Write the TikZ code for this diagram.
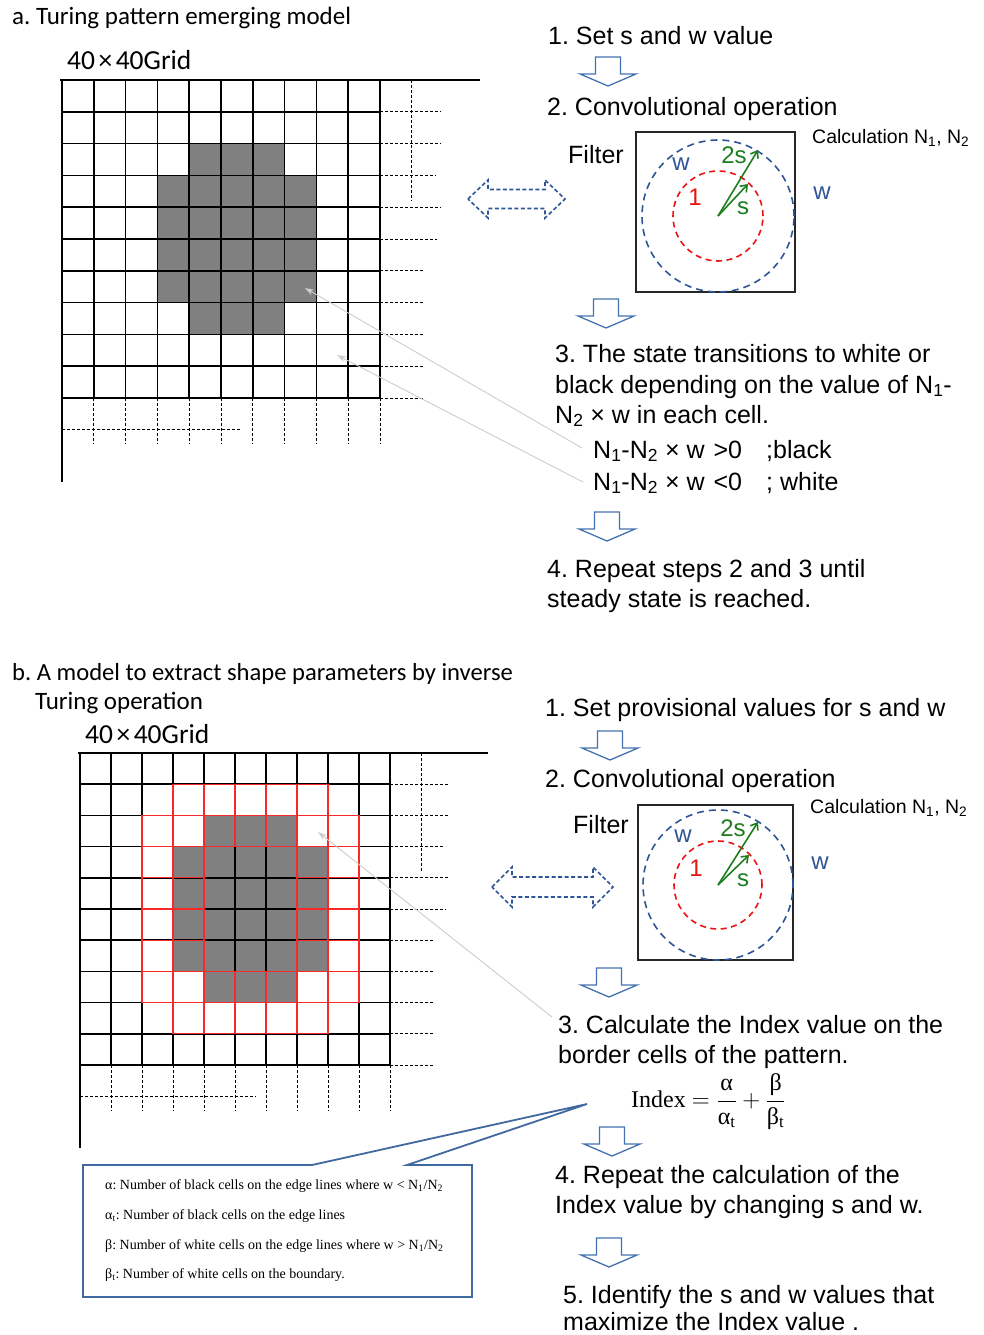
\documentclass[tikz,border=0pt]{standalone}
\usepackage[no-math]{fontspec}
\setmainfont{Liberation Sans}
\newfontfamily\calfont{Carlito}
\newfontfamily\serfont{Liberation Serif}
\usetikzlibrary{arrows.meta}
\frenchspacing
\definecolor{arrblue}{RGB}{68,114,176}
\definecolor{dashblue}{RGB}{47,85,151}
\definecolor{calloutblue}{RGB}{65,105,160}
\definecolor{fgreen}{RGB}{30,125,30}
\definecolor{cellgray}{RGB}{128,128,128}
\definecolor{leadgray}{RGB}{205,205,205}
\definecolor{gridred}{RGB}{250,40,40}
\definecolor{circred}{RGB}{235,20,20}
\tikzset{
 txt/.style={anchor=base west, inner sep=0pt, font=\fontsize{25}{30}\selectfont},
 ttl/.style={anchor=base west, inner sep=0pt, font=\calfont\fontsize{25}{30}\selectfont},
 grd/.style={anchor=base west, inner sep=0pt, font=\calfont\fontsize{27.5}{30}\selectfont},
 calc/.style={anchor=base west, inner sep=0pt, font=\fontsize{19.5}{22}\selectfont},
 lbl/.style={inner sep=0pt, font=\fontsize{24}{26}\selectfont},
 boxt/.style={anchor=base west, inner sep=0pt, font=\serfont\fontsize{14}{16}\selectfont},
 blockarrow/.style={draw=arrblue, line width=1.3pt, fill=white, line join=miter},
 dblarrow/.style={draw=dashblue, line width=1.6pt, dash pattern=on 4pt off 2.5pt},
 leader/.style={draw=leadgray, line width=0.9pt, -{Stealth[length=9pt,width=6pt]}},
 garrow/.style={draw=fgreen, line width=1.6pt, -{Straight Barb[length=6pt,width=9pt]}},
 bluecirc/.style={draw=dashblue, line width=1.6pt, dash pattern=on 7pt off 5pt},
 redcirc/.style={draw=circred, line width=1.6pt, dash pattern=on 6pt off 4.5pt},
 filterbox/.style={draw=black!85, line width=1.3pt},
 gline/.style={draw=black, line width=1.5pt},
 gdash/.style={draw=black, line width=1pt, dash pattern=on 3pt off 2pt},
 redcell/.style={draw=gridred, line width=1.3pt},
 callout/.style={draw=calloutblue, line width=1.8pt, line join=miter},
}
\newcommand\turgrid[4]{%
\begin{scope}[shift={(#1,#2)}, x=#3pt, y=-#4pt]
 \fill[cellgray] (4,2) rectangle (7,3);
 \fill[cellgray] (3,3) rectangle (8,7);
 \fill[cellgray] (4,7) rectangle (7,8);
 \foreach \k in {1,...,10} {\draw[gline] (\k,0) -- (\k,10);}
 \foreach \k in {1,...,10} {\draw[gline] (0,\k) -- (10,\k);}
 \draw[gline] (-0.06,0) -- (13.15,0);
 \draw[gline] (0,0) -- (0,12.65);
 \foreach \r/\e in {1/11.9,2/11.9,3/11.75,4/11.9,5/11.8,6/11.4,7/11.4,8/11.4,9/11.4,10/11.4}
   {\draw[gdash] (10,\r) -- (\e,\r);}
 \draw[gdash] (11,0) -- (11,3.78);
 \foreach \k in {1,...,10} {\draw[gdash] (\k,10) -- (\k,11.45);}
 \draw[gdash] (0,11) -- (5.66,11);
\end{scope}}
\newcommand\blockarr[2]{%
\draw[blockarrow] (#1-12.5,#2) -- (#1+12.5,#2) -- (#1+12.5,#2+17) -- (#1+28,#2+17)
  -- (#1,#2+29) -- (#1-28,#2+17) -- (#1-12.5,#2+17) -- cycle;}
\newcommand\dblarr[6]{%
\draw[dblarrow] (#1,#5) -- (#2,#5-#6) -- (#2,#5-0.5*#6) -- (#3,#5-0.5*#6) -- (#3,#5-#6)
  -- (#4,#5) -- (#3,#5+#6) -- (#3,#5+0.5*#6) -- (#2,#5+0.5*#6) -- (#2,#5+#6) -- cycle;}
\begin{document}
\begin{tikzpicture}[x=1pt, y=-1pt]
\useasboundingbox[fill=white] (0,0) rectangle (983,1335);

% ================= Part a =================
\node[ttl] (ta) at (12,25) {a. Turing pattern emerging model};
\node[grd] (ga) at (67,70) {40\kern3.5pt×\kern3.5pt40Grid};
\turgrid{62}{80}{31.8}{31.8}

\node[txt] (a1) at (548,45) {1. Set s and w value};
\blockarr{608}{57}
\node[txt] (a2) at (547,116) {2. Convolutional operation};
\node[txt] (fa) at (568,163) {Filter};
\node[calc] (ca) at (812,143) {Calculation N\textsubscript{1}, N\textsubscript{2}};
\draw[filterbox] (636,132) rectangle (795,292);
\coordinate (cena) at (718,216);
\draw[bluecirc] (cena) circle[radius=76pt];
\draw[redcirc] (cena) circle[radius=45pt];
\coordinate (g2a) at (758,150);
\coordinate (g1a) at (748,184);
\draw[garrow] (cena) -- (g2a);
\draw[garrow] (cena) -- (g1a);
\node[lbl, text=dashblue] (wa1) at (681,164) {w};
\node[lbl, text=fgreen] (s2a) at (734,155) {2s};
\node[lbl, text=fgreen] (s1a) at (743,208) {s};
\node[lbl, text=circred] (oa) at (695,197) {1};
\node[lbl, text=dashblue] (wa2) at (822,193) {w};
\dblarr{468}{488}{545}{565}{199}{19}

\blockarr{606}{299}
\node[txt] (a3a) at (555,362) {3. The state transitions to white or};
\node[txt] (a3b) at (555,393) {black depending on the value of N\textsubscript{1}-};
\node[txt] (a3c) at (555,423) {N\textsubscript{2} × w in each cell.};
\node[txt] (a3d) at (593,458) {N\textsubscript{1}-N\textsubscript{2} × w\kern9pt>0};
\node[txt] (a3d2) at (766,458) {;black};
\node[txt] (a3e) at (593,490) {N\textsubscript{1}-N\textsubscript{2} × w\kern9pt<0};
\node[txt] (a3e2) at (766,490) {; white};
\coordinate (la1) at (305,288);
\coordinate (la2) at (337,355);
\draw[leader] (a3d.base west) ++(-11,-10) -- (la1);
\draw[leader] (a3e.base west) ++(-10,-8) -- (la2);
\blockarr{607}{512}
\node[txt] (a4a) at (547,577) {4. Repeat steps 2 and 3 until};
\node[txt] (a4b) at (547,607) {steady state is reached.};

% ================= Part b =================
\node[ttl, font=\calfont\fontsize{24.6}{30}\selectfont] (tb1) at (12,680) {b. A model to extract shape parameters by inverse};
\node[ttl] (tb2) at (35,709) {Turing operation};
\node[grd] (gb) at (85,743) {40\kern3.5pt×\kern3.5pt40Grid};
\turgrid{80}{753}{31.0}{31.2}
\begin{scope}[shift={(80,753)}, x=31.0pt, y=-31.2pt]
 \foreach \c in {3,...,7} {\draw[redcell] (\c,1) rectangle ++(1,1); \draw[redcell] (\c,8) rectangle ++(1,1);}
 \foreach \c in {2,...,8} {\draw[redcell] (\c,2) rectangle ++(1,1); \draw[redcell] (\c,7) rectangle ++(1,1);}
 \foreach \r in {3,...,6} {\foreach \c in {2,3,7,8} {\draw[redcell] (\c,\r) rectangle ++(1,1);}}
\end{scope}

\node[txt] (b1) at (545,716) {1. Set provisional values for s and w};
\blockarr{610}{731}
\node[txt] (b2) at (545,787) {2. Convolutional operation};
\node[txt] (fb) at (573,833) {Filter};
\node[calc] (cb) at (810,813) {Calculation N\textsubscript{1}, N\textsubscript{2}};
\draw[filterbox] (638,805) rectangle (793,960);
\coordinate (cenb) at (718,885);
\draw[bluecirc] (cenb) circle[radius=75pt];
\draw[redcirc] (cenb) circle[radius=44pt];
\coordinate (g2b) at (758,822);
\coordinate (g1b) at (749,855);
\draw[garrow] (cenb) -- (g2b);
\draw[garrow] (cenb) -- (g1b);
\node[lbl, text=dashblue] (wb1) at (683,836) {w};
\node[lbl, text=fgreen] (s2b) at (733,828) {2s};
\node[lbl, text=fgreen] (s1b) at (743,880) {s};
\node[lbl, text=circred] (ob) at (696,868) {1};
\node[lbl, text=dashblue] (wb2) at (820,863) {w};
\dblarr{492}{512}{593}{613}{887}{20}

\blockarr{609}{968}
\node[txt] (b3a) at (558,1033) {3. Calculate the Index value on the};
\node[txt] (b3b) at (558,1063) {border cells of the pattern.};
\coordinate (lb1) at (318,832);
\draw[leader] (b3a.base west) ++(-6,-16) -- (lb1);
\node[anchor=base west, inner sep=0pt, font=\fontsize{24}{28}\selectfont] (idx) at (631,1107)
  {\serfont Index $=\displaystyle\frac{\hbox{\serfont α}}{\hbox{\serfont α\textsubscript{t}}}+\frac{\hbox{\serfont β}}{\hbox{\serfont β\textsubscript{t}}}$};
\blockarr{612}{1127}
\node[txt] (b4a) at (555,1183) {4. Repeat the calculation of the};
\node[txt] (b4b) at (555,1213) {Index value by changing s and w.};
\blockarr{609}{1238}
\node[txt] (b5a) at (563,1303) {5. Identify the s and w values that};
\node[txt] (b5b) at (563,1330) {maximize the Index value .};

% callout box
\coordinate (ctip) at (587,1104);
\draw[callout] (83,1165) -- (312,1165) -- (ctip) -- (407,1165) -- (472,1165) -- (472,1297) -- (83,1297) -- cycle;
\node[boxt] (bx1) at (105,1189) {α: Number of black cells on the edge lines where w < N\textsubscript{1}/N\textsubscript{2}};
\node[boxt] (bx2) at (105,1219) {α\textsubscript{t}: Number of black cells on the edge lines};
\node[boxt] (bx3) at (105,1249) {β: Number of white cells on the edge lines where w > N\textsubscript{1}/N\textsubscript{2}};
\node[boxt] (bx4) at (105,1278) {β\textsubscript{t}: Number of white cells on the boundary.};
\end{tikzpicture}
\end{document}
